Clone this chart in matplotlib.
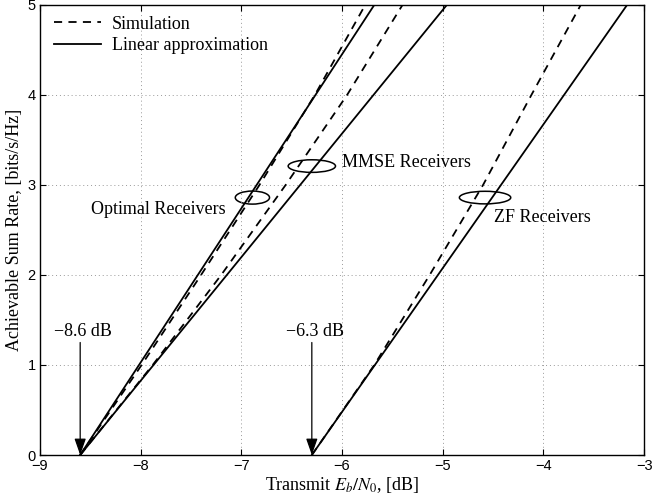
import numpy as np
import matplotlib
matplotlib.use("Agg")
import matplotlib.pyplot as plt
from matplotlib.patches import Ellipse

plt.rcParams["font.family"] = ["Liberation Serif", "DejaVu Serif"]
plt.rcParams["mathtext.fontset"] = "stix"

# Achievable sum rate [bits/s/Hz] vs transmit Eb/N0 [dB]
rate = [0, 1, 2, 3, 4, 5]

# Linear approximation (straight lines from the minimum Eb/N0)
opt_lin_x = [-8.6, -5.68]
mmse_lin_x = [-8.6, -4.96]
zf_lin_x = [-6.3, -3.17]
lin_rate = [0, 5]

# Simulated curves
opt_sim_x = [-8.6, -7.99, -7.40, -6.82, -6.27, -5.77]
mmse_sim_x = [-8.6, -7.88, -7.20, -6.56, -5.95, -5.40]
zf_sim_x = [-6.3, -5.68, -5.13, -4.60, -4.12, -3.63]

# Minimum Eb/N0 markers
min_ebn0 = [-8.6, -6.3]
min_labels = ["\u22128.6 dB", "\u22126.3 dB"]

fs = 13

fig = plt.figure(figsize=(6.54, 4.97), dpi=100)
ax = fig.add_axes([0.061, 0.0845, 0.924, 0.9055])

dash = (0, (4.5, 3.5))
lw = 1.3
ax.plot(opt_sim_x, rate, color="k", lw=lw, linestyle=dash, label="Simulation")
ax.plot(opt_lin_x, lin_rate, color="k", lw=lw, label="Linear approximation")
ax.plot(mmse_sim_x, rate, color="k", lw=lw, linestyle=dash)
ax.plot(mmse_lin_x, lin_rate, color="k", lw=lw)
ax.plot(zf_sim_x, rate, color="k", lw=lw, linestyle=dash)
ax.plot(zf_lin_x, lin_rate, color="k", lw=lw)

# receiver group ellipses and labels
ax.add_patch(Ellipse((-6.89, 2.86), 0.34, 0.145, fill=False, lw=1.1, ec="k"))
ax.add_patch(Ellipse((-6.30, 3.21), 0.47, 0.14, fill=False, lw=1.1, ec="k"))
ax.add_patch(Ellipse((-4.58, 2.86), 0.51, 0.14, fill=False, lw=1.1, ec="k"))
ax.text(-7.16, 2.73, "Optimal Receivers", ha="right", va="center", fontsize=fs)
ax.text(-6.0, 3.25, "MMSE Receivers", ha="left", va="center", fontsize=fs)
ax.text(-4.49, 2.64, "ZF Receivers", ha="left", va="center", fontsize=fs)

for xv, lab in zip(min_ebn0, min_labels):
    ax.annotate("", xy=(xv, 0), xytext=(xv, 1.25),
                arrowprops=dict(arrowstyle="-|>,head_length=1.0,head_width=0.35",
                                color="k", lw=0.9, shrinkA=0, shrinkB=0))
    ax.text(xv + 0.03, 1.37, lab, ha="center", va="center", fontsize=fs)

ax.set_xlim(-9, -3)
ax.set_ylim(0, 5)
ax.set_xticks(np.arange(-9, -2, 1))
ax.set_yticks(np.arange(0, 6, 1))
ax.set_xticklabels([f"\u2212{abs(v)}" for v in range(-9, -2)], family="Liberation Sans", fontsize=10.5)
ax.set_yticklabels([str(v) for v in range(0, 6)], family="Liberation Sans", fontsize=10.5)
ax.tick_params(direction="in", top=True, right=True, length=4, width=0.8, pad=3)
ax.grid(True, linestyle=(0, (1, 3)), color="#999999", lw=0.7)
for s in ax.spines.values():
    s.set_linewidth(1.0)

ax.set_xlabel("Transmit $E_b/N_0$, [dB]", fontsize=fs, labelpad=1)
ax.set_ylabel("Achievable Sum Rate, [bits/s/Hz]", fontsize=fs, labelpad=3)

ax.legend(loc="upper left", frameon=False, fontsize=fs, handlelength=2.6,
          handletextpad=0.6, borderaxespad=0.2, labelspacing=0.25,
          bbox_to_anchor=(0.005, 1.0))

fig.savefig("out.png", dpi=100)
